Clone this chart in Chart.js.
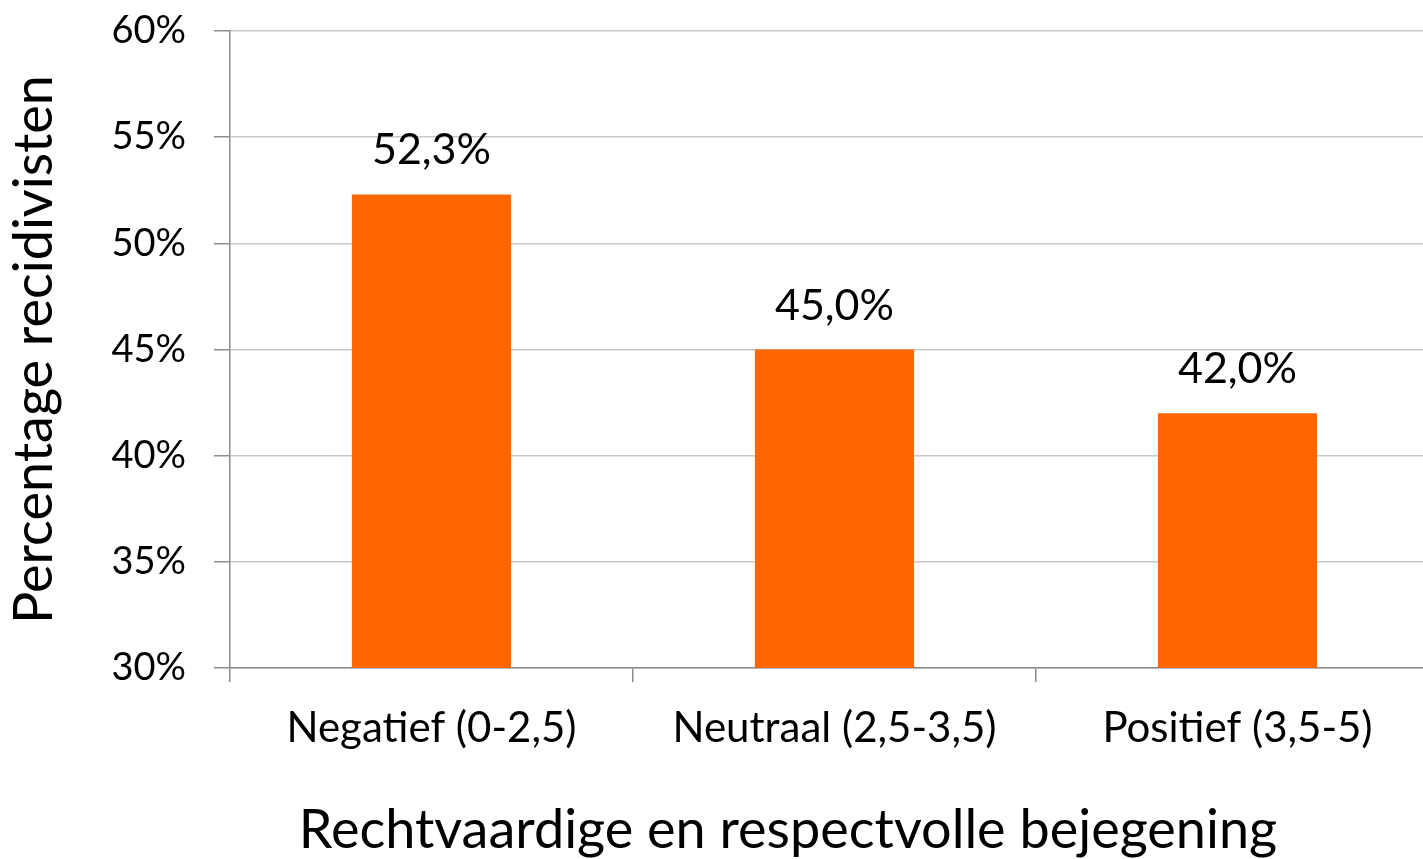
<!DOCTYPE html>
<html>
<head>
<meta charset="utf-8">
<script src="https://cdn.jsdelivr.net/npm/chart.js@4/dist/chart.umd.min.js"></script>
<style>
  html, body { margin: 0; padding: 0; background: #fff; overflow: hidden; }
  #wrap { width: 1440px; height: 859px; }
</style>
</head>
<body>
<div id="wrap"><canvas id="recidiveGrafiek"></canvas></div>
<script>
var categories = ["Negatief (0-2,5)", "Neutraal (2,5-3,5)", "Positief (3,5-5)"];
var percentages = [52.3, 45.0, 42.0];
var yTicks = [30, 35, 40, 45, 50, 55, 60];
var xTitle = "Rechtvaardige en respectvolle bejegening";
var yTitle = "Percentage recidivisten";

var fontFam = "Lato, 'Open Sans', sans-serif";

// labels above the bars ("52,3%") and the x axis title
var barLabels = {
    id: 'barLabels',
    afterDatasetsDraw: function (chart) {
        var ctx = chart.ctx;
        var meta = chart.getDatasetMeta(0);
        ctx.save();
        ctx.font = "43px " + fontFam;
        ctx.fillStyle = '#000';
        ctx.textAlign = 'center';
        ctx.textBaseline = 'alphabetic';
        meta.data.forEach(function (bar, i) {
            var txt = percentages[i].toFixed(1).replace('.', ',') + '%';
            ctx.fillText(txt, bar.x, bar.y - 30);
        });
        ctx.font = "54px " + fontFam;
        ctx.fillText(xTitle, 788, 848);
        ctx.restore();
    }
};

var ctx = document.getElementById("recidiveGrafiek").getContext("2d");
var chart = new Chart(ctx, {
    type: 'bar',
    data: {
        labels: categories,
        datasets: [{
            data: percentages,
            backgroundColor: '#FF6600',
            borderWidth: 0,
            categoryPercentage: 1,
            barPercentage: 0.395
        }]
    },
    options: {
        responsive: true,
        maintainAspectRatio: false,
        animation: false,
        layout: { padding: { top: 31, right: 1, left: 0, bottom: 0 } },
        plugins: {
            legend: { display: false },
            tooltip: { enabled: false }
        },
        scales: {
            x: {
                grid: {
                    offset: true,
                    drawOnChartArea: false,
                    drawTicks: true,
                    tickLength: 14,
                    tickColor: '#8c8c8c',
                    lineWidth: 1.5
                },
                border: { color: '#8c8c8c', width: 1.5 },
                ticks: {
                    color: '#000',
                    font: { family: fontFam, size: 42 },
                    padding: 21,
                    maxRotation: 0
                },
                afterFit: function (s) { s.height = 191; }
            },
            y: {
                min: 30,
                max: 60,
                afterBuildTicks: function (s) {
                    s.ticks = yTicks.map(function (v) { return { value: v }; });
                },
                grid: {
                    color: '#c8c8c8',
                    lineWidth: 1.5,
                    tickLength: 16,
                    tickColor: '#8c8c8c'
                },
                border: { color: '#8c8c8c', width: 1.5 },
                ticks: {
                    color: '#000',
                    font: { family: fontFam, size: 38 },
                    padding: 28,
                    callback: function (v) { return v + '%'; }
                },
                title: {
                    display: true,
                    text: yTitle,
                    color: '#000',
                    font: { family: fontFam, size: 54 },
                    padding: { top: 2, bottom: 0 }
                },
                afterFit: function (s) {
                    s.width = 230;
                    s.paddingTop = 0;
                    s.paddingBottom = 0;
                }
            }
        }
    },
    plugins: [barLabels]
});
</script>
</body>
</html>
